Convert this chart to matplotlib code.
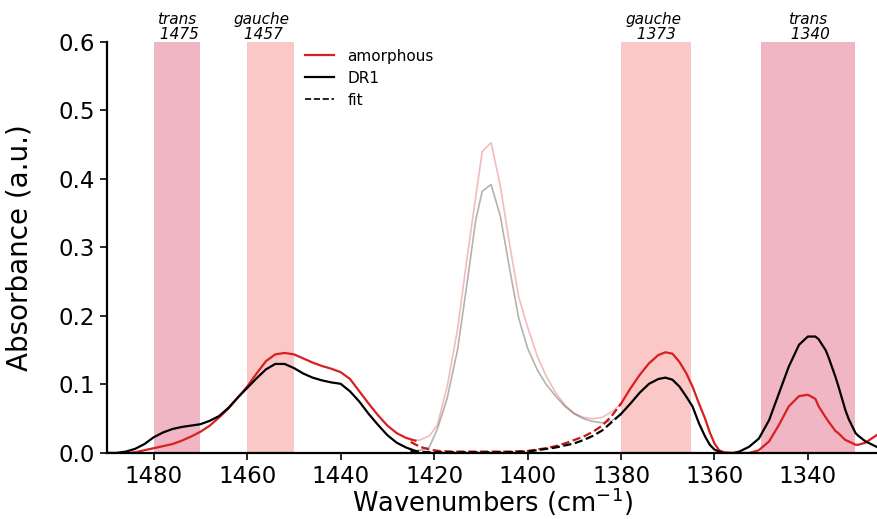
import matplotlib
matplotlib.use("Agg")
import matplotlib.pyplot as plt

# left part of the spectrum (measured, solid)
wn_left = [1490, 1488, 1486, 1484, 1482, 1480, 1478, 1476, 1474, 1472, 1470, 1468, 1466,
           1464, 1462, 1460, 1458, 1456, 1454, 1452, 1450, 1448, 1446, 1444, 1442, 1440,
           1438, 1436, 1434, 1432, 1430, 1428, 1426, 1424]
amorphous_left = [0.0, 0.0, 0.0, 0.001, 0.004, 0.007, 0.010, 0.013, 0.018, 0.024, 0.031, 0.040, 0.052,
                  0.065, 0.081, 0.097, 0.116, 0.134, 0.144, 0.146, 0.144, 0.138, 0.132, 0.127, 0.123, 0.118,
                  0.108, 0.090, 0.072, 0.055, 0.040, 0.029, 0.022, 0.018]
dr1_left = [0.0, 0.0, 0.002, 0.006, 0.013, 0.023, 0.030, 0.035, 0.038, 0.040, 0.042, 0.047, 0.054,
            0.066, 0.081, 0.095, 0.109, 0.122, 0.130, 0.130, 0.124, 0.116, 0.110, 0.106, 0.103, 0.101,
            0.090, 0.075, 0.057, 0.041, 0.026, 0.015, 0.008, 0.003]

# raw spectra in the excluded window (faint)
wn_raw = [1425, 1423, 1421, 1419.3, 1417.2, 1415, 1412.9, 1411.1, 1409.7, 1407.8, 1405.8, 1404,
          1401.9, 1400, 1397.9, 1396, 1394, 1392, 1390, 1388, 1386, 1384, 1382, 1380]
amorphous_raw = [0.018, 0.019, 0.025, 0.041, 0.097, 0.180, 0.287, 0.374, 0.440, 0.453, 0.389, 0.311,
                 0.228, 0.184, 0.141, 0.112, 0.088, 0.070, 0.058, 0.052, 0.050, 0.052, 0.060, 0.072]
dr1_raw = [0.003, 0.004, 0.009, 0.035, 0.080, 0.150, 0.250, 0.340, 0.382, 0.392, 0.345, 0.275,
           0.197, 0.153, 0.121, 0.100, 0.083, 0.068, 0.057, 0.050, 0.046, 0.044, 0.047, 0.057]

# baseline fit across the window (dashed)
wn_fit = [1425, 1423, 1421, 1419, 1416, 1412, 1408, 1404, 1400, 1398, 1396, 1394, 1392,
          1390, 1388, 1386, 1384, 1382, 1380]
amorphous_fit = [0.016, 0.009, 0.005, 0.003, 0.002, 0.002, 0.002, 0.002, 0.003, 0.005, 0.007, 0.010, 0.014,
                 0.019, 0.024, 0.031, 0.040, 0.054, 0.072]
dr1_fit = [0.003, 0.002, 0.001, 0.001, 0.001, 0.001, 0.001, 0.001, 0.002, 0.004, 0.006, 0.008, 0.011,
           0.014, 0.019, 0.025, 0.033, 0.045, 0.057]

# right part of the spectrum
wn_right = [1380, 1378, 1376, 1374, 1372, 1370.5, 1369, 1367.5, 1366, 1364.7, 1363.3, 1362, 1361,
            1360, 1359, 1358, 1356, 1354.7, 1352.6, 1350.5, 1348.3, 1346.2, 1344.1, 1341.9, 1340,
            1338.4, 1337.7, 1336.2, 1335.6, 1334.1, 1333.5, 1332, 1331.3, 1329.8, 1329.2, 1327.7, 1325.3]
amorphous_right = [0.072, 0.094, 0.114, 0.131, 0.143, 0.147, 0.145, 0.133, 0.116, 0.097, 0.072, 0.050, 0.030,
                   0.014, 0.004, 0.001, 0.0, 0.0, 0.0, 0.004, 0.017, 0.041, 0.068, 0.083, 0.085,
                   0.079, 0.068, 0.052, 0.046, 0.032, 0.029, 0.019, 0.017, 0.012, 0.012, 0.015, 0.026]
dr1_right = [0.057, 0.072, 0.088, 0.101, 0.108, 0.110, 0.107, 0.097, 0.082, 0.068, 0.043, 0.024, 0.012,
             0.005, 0.002, 0.0, 0.0, 0.002, 0.009, 0.021, 0.048, 0.087, 0.126, 0.158, 0.170,
             0.170, 0.166, 0.150, 0.140, 0.111, 0.098, 0.063, 0.050, 0.029, 0.025, 0.017, 0.009]

# marked conformer bands
band_names = ["trans", "gauche", "gauche", "trans"]
band_centres = [1475, 1457, 1373, 1340]
band_lo = [1470, 1450, 1365, 1330]
band_hi = [1480, 1460, 1380, 1350]

RED = "#d91f1f"
TRANS_COL = "#f1b6c3"
GAUCHE_COL = "#fbc8c8"


def main():
    fig = plt.figure(figsize=(8.78, 5.19), dpi=100)
    ax = fig.add_axes([0.1219, 0.1272, 0.8781, 0.7919])

    for name, c, lo, hi in zip(band_names, band_centres, band_lo, band_hi):
        col = TRANS_COL if name == "trans" else GAUCHE_COL
        ax.fill_between([lo, hi], 0, 0.6, color=col, lw=0, zorder=0)
        ax.text(c, 0.6, f"{name}\n {c}", ha="center", va="bottom", style="italic",
                fontsize=11, linespacing=1.0, clip_on=False)

    ax.plot(wn_raw, amorphous_raw, color=RED, alpha=0.3, lw=1.2)
    ax.plot(wn_raw, dr1_raw, color="black", alpha=0.3, lw=1.2)

    ax.plot(wn_fit, amorphous_fit, color="#c41818", ls="--", lw=1.6)
    ax.plot(wn_fit, dr1_fit, color="black", ls="--", lw=1.6)

    ax.plot(wn_left, amorphous_left, color=RED, lw=1.6, label="amorphous")
    ax.plot(wn_left, dr1_left, color="black", lw=1.6, label="DR1")
    ax.plot(wn_right, amorphous_right, color=RED, lw=1.6)
    ax.plot(wn_right, dr1_right, color="black", lw=1.6)
    ax.plot([], [], color="black", ls="--", lw=1.2, label="fit")

    ax.set_xlim(1490, 1325)
    ax.set_ylim(0, 0.6)
    ax.set_xticks([1480, 1460, 1440, 1420, 1400, 1380, 1360, 1340])
    ax.set_yticks([0.0, 0.1, 0.2, 0.3, 0.4, 0.5, 0.6])
    ax.yaxis.set_major_formatter(matplotlib.ticker.FormatStrFormatter("%.1f"))
    ax.tick_params(labelsize=16.5, length=5, width=1.2)
    ax.spines["top"].set_visible(False)
    ax.spines["right"].set_visible(False)
    ax.spines["left"].set_linewidth(1.6)
    ax.spines["bottom"].set_linewidth(1.6)

    ax.set_xlabel("Wavenumbers (cm$^{-1}$)", fontsize=18.5, labelpad=-1.5)
    ax.set_ylabel("Absorbance (a.u.)", fontsize=20, labelpad=18)

    ax.legend(loc="upper left", bbox_to_anchor=(0.2387, 1.017), frameon=False, fontsize=11,
              handlelength=1.9, handletextpad=0.9, labelspacing=0.45)

    fig.savefig("out.png", dpi=100)


if __name__ == "__main__":
    main()
